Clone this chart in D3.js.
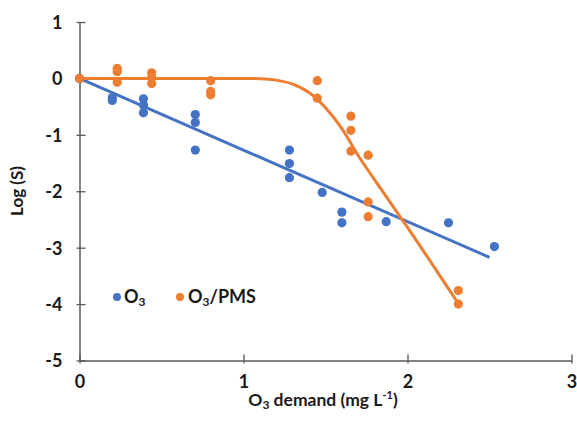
<!DOCTYPE html>
<html><head><meta charset="utf-8">
<script src="https://cdn.jsdelivr.net/npm/d3@7"></script>
<style>body{margin:0;background:#fff}svg{display:block}text{font-family:Lato,"Open Sans",sans-serif;font-weight:bold;fill:#1a1a1a}</style>
</head><body><svg id="c" width="577" height="433"></svg>
<script>
// O3 series
const o3X = [0, 0.2, 0.2, 0.39, 0.39, 0.39, 0.706, 0.706, 0.706, 1.28, 1.28, 1.28, 1.48, 1.60, 1.60, 1.87, 2.25, 2.53];
const o3Y = [0, -0.34, -0.39, -0.36, -0.47, -0.61, -0.64, -0.78, -1.27, -1.27, -1.51, -1.76, -2.02, -2.37, -2.56, -2.54, -2.56, -2.98];
// O3/PMS series
const pmsX = [0, 0.23, 0.23, 0.23, 0.44, 0.44, 0.44, 0.80, 0.80, 0.80, 1.45, 1.45, 1.655, 1.655, 1.655, 1.76, 1.76, 1.76, 2.31, 2.31];
const pmsY = [0, 0.18, 0.12, -0.07, 0.10, 0.02, -0.09, -0.04, -0.23, -0.29, -0.04, -0.35, -0.67, -0.92, -1.29, -1.36, -2.19, -2.45, -3.76, -4.0];
// fitted curves
const o3FitX = [0, 1.29, 2.5];
const o3FitY = [0, -1.64, -3.17];
const pmsFitX = [0, 0.5, 1.0, 1.1, 1.2, 1.3, 1.4, 1.5, 1.6, 1.7, 1.8, 1.9, 2.0, 2.1, 2.2, 2.31];
const pmsFitY = [0, 0, 0, -0.005, -0.03, -0.10, -0.25, -0.52, -0.89, -1.37, -1.80, -2.22, -2.64, -3.07, -3.51, -3.99];
const xTicks = [0, 1, 2, 3];
const yTicks = [1, 0, -1, -2, -3, -4, -5];

const blue = "#4472C4", orange = "#ED7D31", axisCol = "#595959";
const svg = d3.select("#c");
const x = d3.scaleLinear().domain([0, 3]).range([79.5, 571.5]);
const y = d3.scaleLinear().domain([-5, 1]).range([360.5, 22]);
const fmt = d => String(d);

// axes
const gx = svg.append("g").attr("transform", `translate(0,${y(-5)})`)
  .call(d3.axisBottom(x).tickValues(xTicks).tickSize(0).tickFormat(fmt));
gx.select(".domain").attr("stroke", axisCol).attr("stroke-width", 1.5);
gx.selectAll(".tick line").remove();
gx.selectAll(".tick").append("line").attr("y1", -6).attr("y2", 3).attr("stroke", axisCol).attr("stroke-width", 1.3);
gx.selectAll(".tick text").attr("dy", 0).attr("y", 27).attr("font-size", 18).attr("font-family", "Lato").attr("font-weight", "bold").attr("fill", "#1a1a1a");

const gy = svg.append("g").attr("transform", `translate(${x(0)},0)`)
  .call(d3.axisLeft(y).tickValues(yTicks).tickSize(0).tickFormat(fmt));
gy.select(".domain").attr("stroke", axisCol).attr("stroke-width", 1.5);
gy.selectAll(".tick line").remove();
gy.selectAll(".tick").append("line").attr("x1", -3).attr("x2", 6).attr("stroke", axisCol).attr("stroke-width", 1.3);
gy.selectAll(".tick text").attr("x", -17).attr("dy", "0.36em").attr("font-size", 18).attr("font-family", "Lato").attr("font-weight", "bold").attr("fill", "#1a1a1a");

// fits
const line = d3.line().x(d => x(d[0])).y(d => y(d[1]));
svg.append("path").datum(o3FitX.map((v, i) => [v, o3FitY[i]]))
  .attr("d", line.curve(d3.curveLinear)).attr("fill", "none").attr("stroke", blue).attr("stroke-width", 3);
svg.append("path").datum(pmsFitX.map((v, i) => [v, pmsFitY[i]]))
  .attr("d", d3.line().x(d => x(d[0])).y(d => y(d[1])).curve(d3.curveMonotoneX))
  .attr("fill", "none").attr("stroke", orange).attr("stroke-width", 3);

// points
svg.append("g").selectAll("circle").data(o3X.map((v, i) => [v, o3Y[i]])).join("circle")
  .attr("cx", d => x(d[0])).attr("cy", d => y(d[1])).attr("r", 4.6).attr("fill", blue);
svg.append("g").selectAll("circle").data(pmsX.map((v, i) => [v, pmsY[i]])).join("circle")
  .attr("cx", d => x(d[0])).attr("cy", d => y(d[1])).attr("r", 4.6).attr("fill", orange);

// legend
const lg = svg.append("g");
lg.append("circle").attr("cx", 117).attr("cy", 297).attr("r", 4).attr("fill", blue);
const t1 = lg.append("text").attr("x", 124).attr("y", 303).attr("font-size", 18);
t1.append("tspan").text("O");
t1.append("tspan").attr("font-size", 12).attr("dy", 3).text("3");
lg.append("circle").attr("cx", 180).attr("cy", 297).attr("r", 4).attr("fill", orange);
const t2 = lg.append("text").attr("x", 188).attr("y", 303).attr("font-size", 18);
t2.append("tspan").text("O");
t2.append("tspan").attr("font-size", 12).attr("dy", 3).text("3");
t2.append("tspan").attr("dy", -3).text("/PMS");

// axis titles
const xt = svg.append("text").attr("x", 323).attr("y", 406).attr("text-anchor", "middle").attr("font-size", 17.5);
xt.append("tspan").text("O");
xt.append("tspan").attr("font-size", 12).attr("dy", 3).text("3");
xt.append("tspan").attr("dy", -3).text(" demand (mg L");
xt.append("tspan").attr("font-size", 11).attr("dy", -7).text("-1");
xt.append("tspan").attr("dy", 7).text(")");

svg.append("text").attr("transform", "translate(23,191) rotate(-90)").attr("text-anchor", "middle")
  .attr("font-size", 17).text("Log (S)");
</script></body></html>
